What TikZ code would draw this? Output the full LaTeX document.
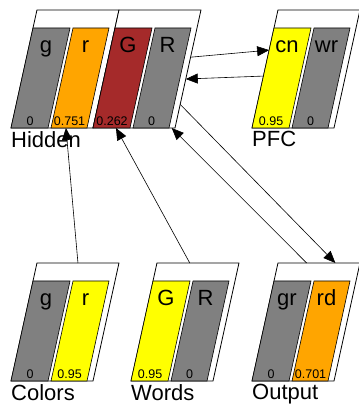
\documentclass[tikz,border=0pt]{standalone}
\usepackage{fontspec}
\setmainfont{Liberation Sans}
\usepackage{tikz}
\usetikzlibrary{positioning,calc,arrows.meta}

\definecolor{unitgray}{RGB}{128,128,128}
\definecolor{unitorange}{RGB}{255,165,0}
\definecolor{unitbrown}{RGB}{165,42,42}
\definecolor{unityellow}{RGB}{255,255,0}

\begin{document}
\begin{tikzpicture}[x=1pt,y=1pt,
layerbox/.style={draw,fill=white,line width=.8pt},
unitbox/.style={draw,line width=.6pt},
unitname/.style={anchor=base,inner sep=0pt,font=\fontsize{22}{22}\selectfont},
unitval/.style={anchor=base,inner sep=0pt,font=\fontsize{12.5}{12.5}\selectfont},
layername/.style={anchor=north west,inner sep=0pt,font=\fontsize{22}{22}\selectfont},
conn/.style={-{Triangle[length=12pt,width=10pt]},line width=.6pt}]
\useasboundingbox (0,0) rectangle (358,406);

% layers: two units each, slanted boxes
\foreach \lyr/\bx/\by/\na/\fa/\va/\nb/\fb/\vb in {
    hidA/11/278/g/unitgray/0/r/unitorange/0.751,
    hidB/93/278/G/unitbrown/0.262/R/unitgray/0,
    pfc/252/278/cn/unityellow/0.95/wr/unitgray/0,
    colors/11/25/g/unitgray/0/r/unityellow/0.95,
    words/131/25/G/unityellow/0.95/R/unitgray/0,
    output/252/25/gr/unitgray/0/rd/unitorange/0.701} {
\begin{scope}[shift={(\bx,\by)},xslant=.22]
\draw[layerbox] (0,0) rectangle (82,118);
\coordinate (\lyr-sw) at (0,0);
\coordinate (\lyr-se) at (82,0);
\coordinate (\lyr-nw) at (0,118);
\coordinate (\lyr-ne) at (82,118);
\draw[unitbox,fill=\fa] (0,0) rectangle (37,100);
\draw[unitbox,fill=\fb] (40,0) rectangle (76,100);
\node (\lyr-na) [unitname] at (18.5,75) {\na};
\node (\lyr-nb) [unitname] at (58,75) {\nb};
\node (\lyr-va) [unitval] at (18.5,2.5) {\va};
\node (\lyr-vb) [unitval] at (58,2.5) {\vb};
\end{scope}
}

\node (hidlbl) [layername,below right=3pt and 0pt of hidA-sw] {Hidden};
\node (pfclbl) [layername,below right=3pt and 0pt of pfc-sw] {PFC};
\node (colorslbl) [layername,below right=3pt and 0pt of colors-sw] {Colors};
\node (wordslbl) [layername,below right=3pt and 0pt of words-sw] {Words};
\node (outputlbl) [layername,below right=3pt and 0pt of output-sw] {Output};

% projections
\draw[conn] ($(colors-nw)!.5!(colors-ne)$) -- ($(hidA-sw)!.67!(hidA-se)$);
\draw[conn] ($(words-nw)!.4!(words-ne)$) -- ($(hidB-sw)!.28!(hidB-se)$);
\draw[conn] ($(hidB-se)!.2!(hidB-ne)$) -- ($(output-nw)!.7!(output-ne)$);
\draw[conn] ($(output-nw)!.35!(output-ne)$) -- ($(hidB-sw)!.96!(hidB-se)$);
\draw[conn] ($(hidB-se)!.6!(hidB-ne)$) -- ($(pfc-sw)!.66!(pfc-nw)$);
\draw[conn] ($(pfc-sw)!.44!(pfc-nw)$) -- ($(hidB-se)!.415!(hidB-ne)$);
\end{tikzpicture}
\end{document}
